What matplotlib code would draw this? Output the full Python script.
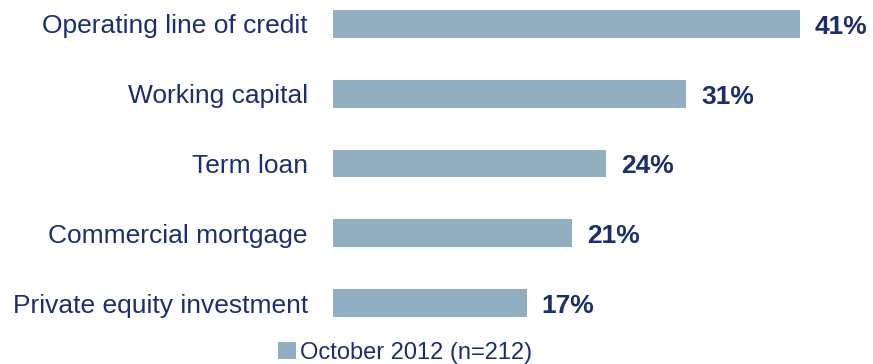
import matplotlib.pyplot as plt

# Survey shares by financing type
categories = ["Operating line of credit", "Working capital", "Term loan",
              "Commercial mortgage", "Private equity investment"]
shares = [41, 31, 24, 21, 17]
series_name = "October 2012 (n=212)"

BAR = "#92AFC2"
NAVY = "#1B2F6E"

plt.rcParams['font.family'] = ['Liberation Sans', 'DejaVu Sans']

fig = plt.figure(figsize=(8.73, 3.64), dpi=100)
ax = fig.add_axes([333 / 873, 1 - 330 / 364, 540 / 873, 330 / 364])

pos = list(range(len(categories)))
ax.barh(pos, shares, height=0.40, color=BAR, label=series_name)

for p, v in zip(pos, shares):
    ax.text(v + 1.3, p + 0.04, f"{v}%", va="center", ha="left",
            fontsize=19, fontweight="bold", color=NAVY)

ax.set_xlim(0, 540 / 11.39)
ax.set_ylim(4.387, -0.344)
ax.set_yticks(pos)
ax.set_yticklabels(categories, fontsize=19, color=NAVY)
ax.tick_params(axis="y", length=0, pad=18)
ax.set_xticks([])
for s in ax.spines.values():
    s.set_visible(False)

fig.legend(loc="center", bbox_to_anchor=(405 / 873, 1 - 353 / 364),
           frameon=False, fontsize=17, handlelength=0.75, handleheight=0.75,
           handletextpad=0.15, labelcolor=NAVY, borderpad=0)

fig.savefig("out.png", dpi=100)
